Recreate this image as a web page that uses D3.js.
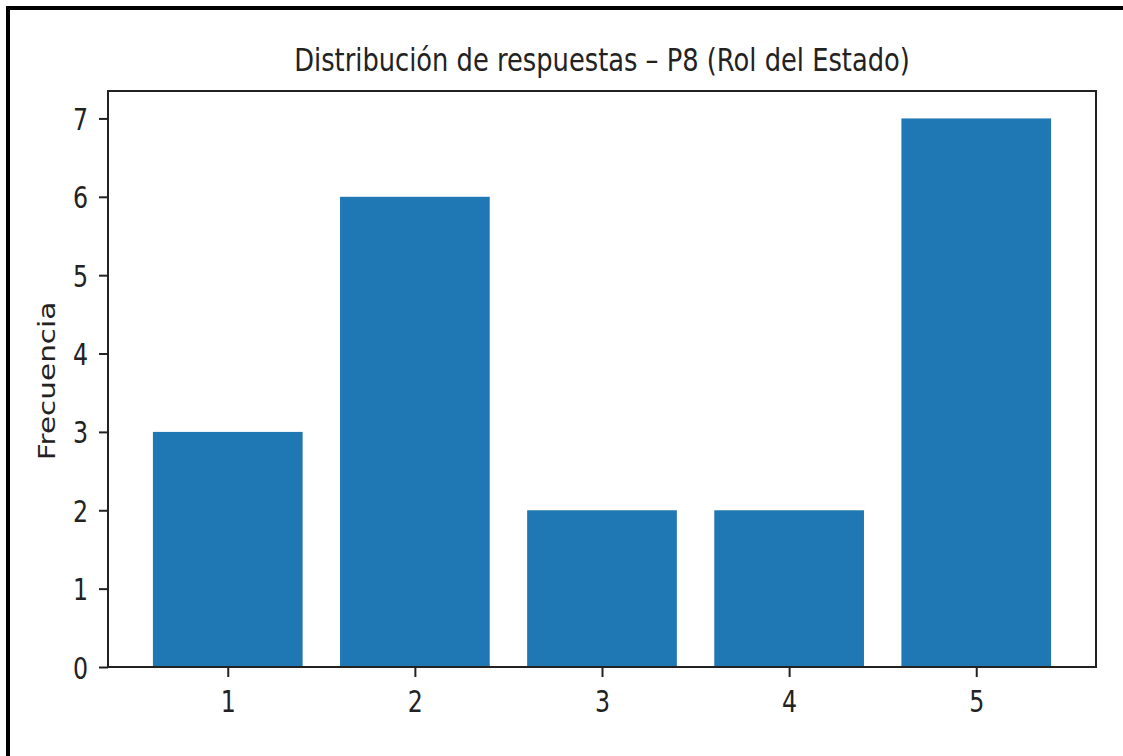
<!DOCTYPE html>
<html>
<head>
<meta charset="utf-8">
<script src="https://cdn.jsdelivr.net/npm/d3@7"></script>
<style>
  html, body { margin: 0; padding: 0; background: #fff; }
  svg { display: block; }
  text { font-family: "DejaVu Sans", sans-serif; fill: #222; }
</style>
</head>
<body>
<svg id="chart" width="1123" height="756"></svg>
<script>
const categories = [1, 2, 3, 4, 5];
const frequencies = [3, 6, 2, 2, 7];
const yTicks = [0, 1, 2, 3, 4, 5, 6, 7];
const titleText = "Distribución de respuestas – P8 (Rol del Estado)";
const yLabelText = "Frecuencia";

const W = 1123, H = 756;
const plot = { left: 108, top: 91, right: 1096, bottom: 667 };
const sx = 0.79; // horizontal squeeze of glyphs

const svg = d3.select("#chart");
svg.append("rect").attr("width", W).attr("height", H).attr("fill", "#fff");

// outer black border (top and left)
svg.append("rect").attr("x", 6).attr("y", 6).attr("width", W - 6).attr("height", 4).attr("fill", "#000");
svg.append("rect").attr("x", 6).attr("y", 6).attr("width", 4).attr("height", H - 6).attr("fill", "#000");

const bw = 0.8;
const x = d3.scaleLinear()
  .domain([1 - bw / 2 - 0.24, 5 + bw / 2 + 0.24])
  .range([plot.left, plot.right]);
const y = d3.scaleLinear()
  .domain([0, 7.35])
  .range([plot.bottom, plot.top]);

// bars
svg.append("g").selectAll("rect").data(categories).join("rect")
  .attr("x", (d) => x(d - bw / 2))
  .attr("width", (d) => x(d + bw / 2) - x(d - bw / 2))
  .attr("y", (d, i) => y(frequencies[i]))
  .attr("height", (d, i) => y(0) - y(frequencies[i]))
  .attr("fill", "#1f77b4");

// axes frame
svg.append("rect")
  .attr("x", plot.left).attr("y", plot.top)
  .attr("width", plot.right - plot.left).attr("height", plot.bottom - plot.top)
  .attr("fill", "none").attr("stroke", "#222").attr("stroke-width", 2);

// y axis
const yAxis = svg.append("g")
  .attr("transform", `translate(${plot.left},0)`)
  .call(d3.axisLeft(y).tickValues(yTicks).tickSize(9).tickSizeOuter(0).tickFormat(d3.format("d")));
yAxis.select(".domain").remove();
yAxis.selectAll(".tick line").attr("stroke", "#222").attr("stroke-width", 2);
yAxis.selectAll(".tick text")
  .attr("x", 0).attr("dy", null).attr("y", 0)
  .attr("transform", `translate(-20,11) scale(${sx},1)`)
  .attr("text-anchor", "end")
  .style("font-size", "30px").style("font-family", "DejaVu Sans").attr("fill", "#222");

// x axis
const xAxis = svg.append("g")
  .attr("transform", `translate(0,${plot.bottom})`)
  .call(d3.axisBottom(x).tickValues(categories).tickSize(10).tickSizeOuter(0).tickFormat(d3.format("d")));
xAxis.select(".domain").remove();
xAxis.selectAll(".tick line").attr("stroke", "#222").attr("stroke-width", 2);
xAxis.selectAll(".tick text")
  .attr("y", 0).attr("dy", null)
  .attr("transform", `translate(0,45) scale(${sx},1)`)
  .attr("text-anchor", "middle")
  .style("font-size", "30px").style("font-family", "DejaVu Sans").attr("fill", "#222");

// title
svg.append("text")
  .attr("x", 0).attr("y", 0)
  .attr("transform", `translate(${(plot.left + plot.right) / 2},71) scale(0.805,1)`)
  .attr("text-anchor", "middle")
  .style("font-size", "32px")
  .text(titleText);

// y label
svg.append("text")
  .attr("x", 0).attr("y", 0)
  .attr("transform", `translate(55,${(plot.top + plot.bottom) / 2 + 2}) scale(${sx},1) rotate(-90)`)
  .attr("text-anchor", "middle")
  .style("font-size", "29.5px")
  .text(yLabelText);
</script>
</body>
</html>
